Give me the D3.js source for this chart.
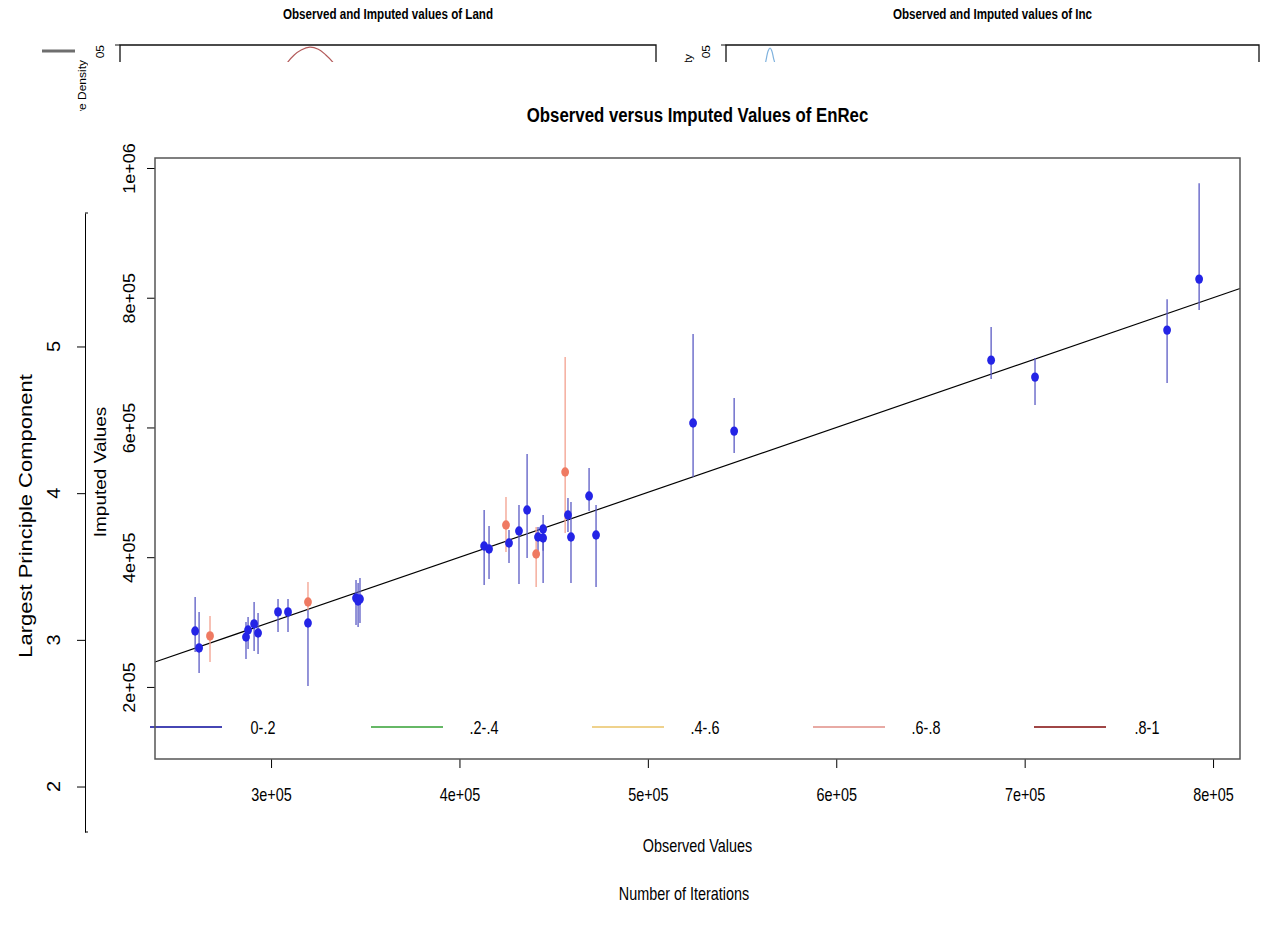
<!DOCTYPE html>
<meta charset="utf-8">
<html>
<head>
<title>Observed versus Imputed Values of EnRec</title>
<style>
  body { margin: 0; background: #fff; }
  svg { display: block; }
  text { font-family: 'Liberation Sans', Arial, sans-serif; fill: #000; }
</style>
</head>
<body>
<div id="chart"></div>
<script src="https://cdn.jsdelivr.net/npm/d3@7"></script>
<script>

// overimputation values (observed, mean imputed, 90% interval, missingness group)
var observed = [259700, 261800, 267600, 286700, 287800, 291000, 293100, 303700, 309000, 319600,
                319600, 345100, 346200, 347200, 413100, 415700, 424700, 426300, 431600, 435900,
                440700, 441700, 444400, 444400, 456100, 457600, 459200, 468800, 472500, 524000,
                545800, 682200, 705500, 775600, 792600];
var imputed  = [286300, 260100, 278600, 277000, 287800, 297100, 283200, 315600, 315600, 331000,
                298600, 337100, 332500, 335600, 417300, 412600, 449600, 421900, 440400, 472700,
                404900, 431100, 443400, 429600, 531300, 465000, 431100, 494300, 434200, 606800,
                594400, 703800, 677600, 750100, 828700];
var lower    = [253900, 221600, 238500, 243100, 258600, 255500, 250800, 284700, 284700, 318600,
                201500, 295500, 292400, 298600, 357200, 366400, 408000, 391100, 358700, 398800,
                354100, 406500, 360200, 410000, 437300, 438800, 360200, 471200, 354100, 523600,
                560500, 674600, 634500, 668400, 780900];
var upper    = [338700, 315600, 309400, 300200, 307900, 331000, 314000, 335600, 335600, 361800,
                318600, 364900, 360200, 367900, 472700, 448100, 492800, 441900, 480400, 559000,
                446500, 446500, 465000, 440000, 708500, 491200, 485000, 537400, 480400, 743900,
                645300, 754700, 706900, 797800, 976600];
var group    = [0, 0, 3, 0, 0, 0, 0, 0, 0, 3,
                0, 0, 0, 0, 0, 0, 3, 0, 0, 0,
                3, 0, 0, 0, 3, 0, 0, 0, 0, 0,
                0, 0, 0, 0, 0];

var legendLabels = ["0-.2", ".2-.4", ".4-.6", ".6-.8", ".8-1"];
var pointColors  = ["#2424e6", "#2ca02c", "#e8b030", "#ef7a62", "#8b1a1a"];
var barColors    = ["#5a5ac4", "#5cb85c", "#f0c870", "#f3a08e", "#a04040"];
var legendColors = ["#4646b4", "#66b866", "#efd28c", "#e8aaa4", "#a04646"];

var xTicks = [3e5, 4e5, 5e5, 6e5, 7e5, 8e5];
var yTicks = [2e5, 4e5, 6e5, 8e5, 1e6];

// left plot behind (largest principal component)
var pcTicks = [2, 3, 4, 5];

// density curves peeking out of the top panels
var landVal  = [29.0, 31.3, 32.5, 33.8, 35.4, 37.0, 38.4, 39.7, 42.0];
var landDens = [4.50, 4.76, 4.86, 4.93, 4.97, 4.94, 4.86, 4.76, 4.50];
var incVal   = [7.0, 7.3, 7.6, 7.9, 8.26, 8.6, 8.9, 9.3, 9.6];
var incDens  = [4.50, 4.70, 4.82, 4.915, 4.958, 4.915, 4.82, 4.70, 4.50];

var width = 1268, height = 932;
var squeeze = 0.8;   // the picture is squashed sideways, text with it

var svg = d3.select("#chart").append("svg")
    .attr("width", width)
    .attr("height", height);
svg.append("rect").attr("width", width).attr("height", height).attr("fill", "#fff");

function label(str, x, y, opts) {
  opts = opts || {};
  var sq = opts.sq || squeeze;
  var t = svg.append("text")
    .attr("transform", "translate(" + x + "," + y + ") scale(" + sq + ",1)" + (opts.rot ? " rotate(-90)" : ""))
    .attr("text-anchor", opts.anchor || "middle")
    .style("font-size", (opts.size || 17) + "px")
    .text(str);
  if (opts.bold) t.style("font-weight", "bold");
  return t;
}

// ---- top panels (mostly hidden) ----
var cutY = 62;
function topPanel(x0, x1, title, vals, dens, color) {
  var px = d3.scaleLinear().domain([0, 100]).range([x0, x1]);
  var py = d3.scaleLinear().domain([0, 5]).range([400, 45]);
  label(title, (x0 + x1) / 2, 19, {bold: true, size: 14.5});
  svg.append("path")
    .attr("d", d3.line().curve(d3.curveCatmullRom)
      .x(function (d, i) { return px(vals[i]); })
      .y(function (d) { return py(d); })(dens))
    .attr("fill", "none")
    .attr("stroke", color)
    .attr("stroke-width", 1.2);
  svg.append("path")
    .attr("d", "M" + x0 + "," + cutY + "V" + py(5) + "H" + x1 + "V" + cutY)
    .attr("fill", "none").attr("stroke", "#111").attr("stroke-width", 1.3);
  svg.append("line")
    .attr("x1", x0 - 5).attr("x2", x0)
    .attr("y1", py(5)).attr("y2", py(5))
    .attr("stroke", "#111");
  label("05", x0 - 16, py(5), {rot: true, anchor: "end", size: 12, sq: 0.9});
}
topPanel(120, 656, "Observed and Imputed values of Land", landVal, landDens, "#b35a5a");
topPanel(726, 1259, "Observed and Imputed values of Inc", incVal, incDens, "#7fb2de");

svg.append("line")
  .attr("x1", 42).attr("x2", 75).attr("y1", 51).attr("y2", 51)
  .attr("stroke", "#6e6e6e").attr("stroke-width", 3);
label("Relative Density", 86, 60, {rot: true, anchor: "end", size: 12, sq: 0.9});
label("Relative Density", 692, 54, {rot: true, anchor: "end", size: 12, sq: 0.9});

// ---- left plot (behind) ----
svg.append("rect").attr("x", 0).attr("y", 111).attr("width", 88).attr("height", height - 111).attr("fill", "#fff");

var pcY = d3.scaleLinear().domain([1.69, 5.91]).range([832, 213]);
svg.append("g")
  .attr("transform", "translate(85,0)")
  .call(d3.axisLeft(pcY).tickValues(pcTicks).tickSize(8).tickSizeOuter(0))
  .call(function (g) {
    g.select(".domain").attr("stroke", "#000");
    g.selectAll("line").attr("stroke", "#000");
    g.selectAll("text").remove();
  });
pcY.range().forEach(function (yy) {
  svg.append("line").attr("x1", 85).attr("x2", 88).attr("y1", yy).attr("y2", yy).attr("stroke", "#000");
});
pcTicks.forEach(function (v) {
  label(String(v), 60, pcY(v), {rot: true, size: 20, sq: 0.9});
});
label("Largest Principle Component", 32, 516, {rot: true, size: 22, sq: 0.85});

// ---- main plot ----
svg.append("rect").attr("x", 88).attr("y", cutY).attr("width", width - 88).attr("height", 872 - cutY).attr("fill", "#fff");
label("Number of Iterations", 684, 900, {size: 18});

var boxL = 155, boxR = 1240, boxT = 158, boxB = 759;
var x = d3.scaleLinear().domain([238400, 814300]).range([boxL, boxR]);
var y = d3.scaleLinear().domain([88900, 1015400]).range([boxB, boxT]);

function sci(v) {
  return d3.format(".0e")(v).replace(/e([+-])(\d)$/, "e$10$2");
}

svg.append("g")
  .attr("transform", "translate(0," + boxB + ")")
  .call(d3.axisBottom(x).tickValues(xTicks).tickFormat(sci).tickSize(9))
  .call(function (g) {
    g.select(".domain").remove();
    g.selectAll("line").attr("stroke", "#000");
    g.selectAll("text")
      .attr("y", 42).attr("dy", null)
      .attr("transform", "scale(" + squeeze + ",1)")
      .style("font-size", "18px")
      .style("font-family", "'Liberation Sans', Arial, sans-serif");
  });

svg.append("g")
  .attr("transform", "translate(" + boxL + ",0)")
  .call(d3.axisLeft(y).tickValues(yTicks).tickFormat(sci).tickSize(8))
  .call(function (g) {
    g.select(".domain").remove();
    g.selectAll("line").attr("stroke", "#000");
    g.selectAll("text")
      .attr("x", 0).attr("y", -22).attr("dy", null)
      .attr("text-anchor", "middle")
      .attr("transform", "scale(0.9,1) rotate(-90)")
      .style("font-size", "18px")
      .style("font-family", "'Liberation Sans', Arial, sans-serif");
  });

label("Observed versus Imputed Values of EnRec", (boxL + boxR) / 2, 122, {bold: true, size: 21});
label("Observed Values", (boxL + boxR) / 2, 852, {size: 18});
label("Imputed Values", 106, 472, {rot: true, size: 19, sq: 0.9});

// y = x reference line
var lineDomain = x.domain();
svg.append("line")
  .attr("x1", x(lineDomain[0])).attr("y1", y(lineDomain[0]))
  .attr("x2", x(lineDomain[1])).attr("y2", y(lineDomain[1]))
  .attr("stroke", "#000").attr("stroke-width", 1.2);

var idx = d3.range(observed.length);

svg.append("g").selectAll("line")
  .data(idx).enter().append("line")
    .attr("x1", function (i) { return x(observed[i]); })
    .attr("x2", function (i) { return x(observed[i]); })
    .attr("y1", function (i) { return y(lower[i]); })
    .attr("y2", function (i) { return y(upper[i]); })
    .attr("stroke", function (i) { return barColors[group[i]]; })
    .attr("stroke-width", 1.3);

svg.append("g").selectAll("ellipse")
  .data(idx).enter().append("ellipse")
    .attr("cx", function (i) { return x(observed[i]); })
    .attr("cy", function (i) { return y(imputed[i]); })
    .attr("rx", 3.9)
    .attr("ry", 4.7)
    .attr("fill", function (i) { return pointColors[group[i]]; });

// legend along the bottom of the box
var legendY = 727;
var legX = d3.scaleLinear().domain([0, 1]).range([boxL - 5, boxL + 216]);
legendLabels.forEach(function (lab, i) {
  svg.append("line")
    .attr("x1", legX(i)).attr("x2", legX(i) + 72)
    .attr("y1", legendY).attr("y2", legendY)
    .attr("stroke", legendColors[i]).attr("stroke-width", 2);
  label(lab, legX(i) + 113, legendY + 7, {size: 18});
});

svg.append("rect")
  .attr("x", boxL).attr("y", boxT)
  .attr("width", boxR - boxL).attr("height", boxB - boxT)
  .attr("fill", "none").attr("stroke", "#555").attr("stroke-width", 1.5);

</script>
</body>
</html>
